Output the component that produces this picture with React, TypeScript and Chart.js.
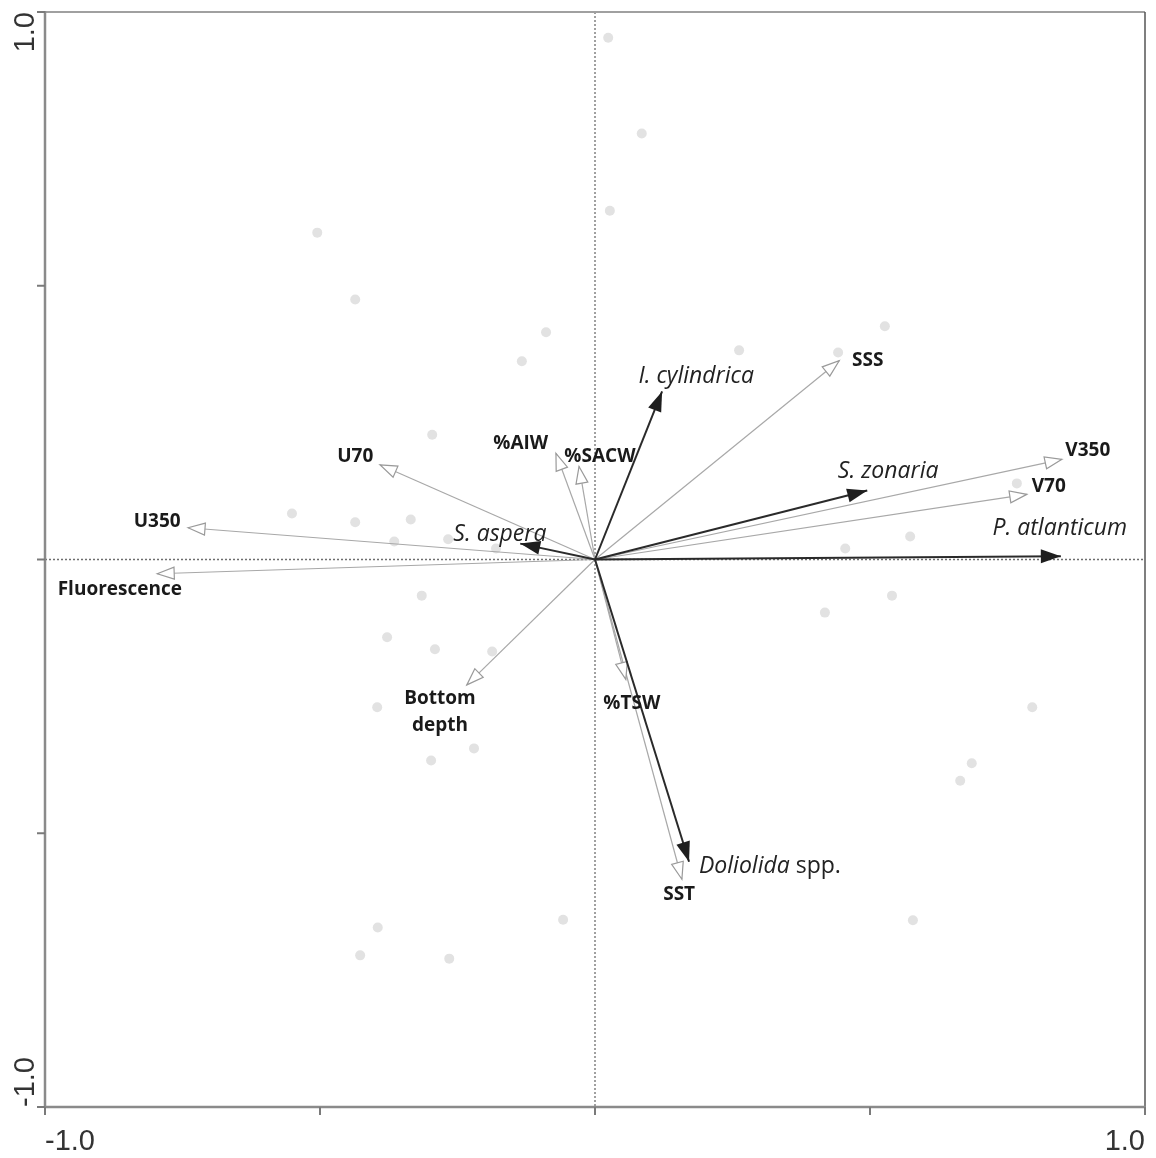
import React, { useEffect, useRef } from 'react';
import { Chart, registerables } from 'chart.js';

Chart.register(...registerables);

// Sample scores (grey dots)
const dotX = [0.024, 0.085, 0.027, -0.505, -0.436, -0.089, 0.527, 0.262, 0.442, -0.133, -0.296, -0.551, -0.436, -0.335, -0.365, -0.267, -0.180, 0.767, 0.573, 0.455, 0.418, 0.540, -0.315, -0.378, -0.291, -0.187, -0.396, -0.220, -0.298, 0.795, 0.685, 0.664, -0.058, -0.395, -0.427, -0.265, 0.578];
const dotY = [0.953, 0.778, 0.637, 0.597, 0.475, 0.415, 0.426, 0.382, 0.378, 0.362, 0.228, 0.084, 0.068, 0.073, 0.033, 0.037, 0.020, 0.139, 0.042, 0.020, -0.097, -0.066, -0.066, -0.142, -0.164, -0.168, -0.270, -0.345, -0.367, -0.270, -0.372, -0.404, -0.658, -0.672, -0.723, -0.729, -0.659];

// Species arrows (black)
const speciesNames = ['I. cylindrica', 'S. zonaria', 'P. atlanticum', 'S. aspera', 'Doliolida'];
const speciesSuffix = ['', '', '', '', ' spp.'];
const speciesX = [0.122, 0.495, 0.847, -0.136, 0.171];
const speciesY = [0.307, 0.126, 0.006, 0.029, -0.552];
const speciesLabelX = [0.184, 0.533, 0.845, -0.173, 0.318];
const speciesLabelY = [0.334, 0.161, 0.057, 0.046, -0.561];

// Environmental arrows (hollow heads)
const envNames = ['SSS', 'V350', 'V70', 'U70', 'U350', 'Fluorescence', '%AIW', '%SACW', 'Bottom\ndepth', '%TSW', 'SST'];
const envX = [0.444, 0.849, 0.785, -0.391, -0.740, -0.796, -0.071, -0.029, -0.233, 0.056, 0.158];
const envY = [0.363, 0.183, 0.119, 0.173, 0.058, -0.026, 0.194, 0.170, -0.229, -0.219, -0.584];
const envLabelX = [0.496, 0.896, 0.825, -0.436, -0.796, -0.864, -0.135, 0.009, -0.282, 0.067, 0.153];
const envLabelY = [0.363, 0.199, 0.133, 0.188, 0.069, -0.055, 0.212, 0.188, -0.279, -0.263, -0.612];

// Axis ticks
const tickValues = [-1, -0.5, 0, 0.5, 1];
const tickLabelValues = [-1, 1];
const tickLabels = ['-1.0', '1.0'];

function drawHead(ctx: CanvasRenderingContext2D, ox: number, oy: number, tx: number, ty: number, L: number, W: number, fill: string, stroke: string | null) {
  const dx = tx - ox, dy = ty - oy;
  const d = Math.hypot(dx, dy) || 1;
  const ux = dx / d, uy = dy / d;
  const bx = tx - ux * L, by = ty - uy * L;
  ctx.save();
  ctx.beginPath();
  ctx.moveTo(tx, ty);
  ctx.lineTo(bx - uy * W, by + ux * W);
  ctx.lineTo(bx + uy * W, by - ux * W);
  ctx.closePath();
  ctx.fillStyle = fill;
  ctx.fill();
  if (stroke) {
    ctx.strokeStyle = stroke;
    ctx.lineWidth = 1.2;
    ctx.lineJoin = 'miter';
    ctx.stroke();
  }
  ctx.restore();
}

export default function App() {
  const ref = useRef<HTMLCanvasElement>(null);
  useEffect(() => {
    const canvas = ref.current!;
    const datasets: any[] = [];
    // species first => drawn on top
    speciesNames.forEach((n, i) => {
      datasets.push({
        label: n,
        kind: 'species',
        idx: i,
        data: [{ x: 0, y: 0 }, { x: speciesX[i], y: speciesY[i] }],
        showLine: true,
        borderColor: '#2a2a2a',
        borderWidth: 2,
        pointRadius: 0,
      });
    });
    envNames.forEach((n, i) => {
      datasets.push({
        label: n,
        kind: 'env',
        idx: i,
        data: [{ x: 0, y: 0 }, { x: envX[i], y: envY[i] }],
        showLine: true,
        borderColor: '#a8a8a8',
        borderWidth: 1.2,
        pointRadius: 0,
      });
    });
    datasets.push({
      label: 'samples',
      kind: 'dots',
      data: dotX.map((x, i) => ({ x, y: dotY[i] })),
      pointRadius: 5,
      pointBackgroundColor: '#e2e2e2',
      pointBorderWidth: 0,
      pointBorderColor: 'rgba(0,0,0,0)',
      showLine: false,
    });

    const plugin = {
      id: 'biplot',
      beforeDatasetsDraw(chart: any) {
        const { ctx, chartArea: a, scales } = chart;
        const x0 = scales.x.getPixelForValue(0);
        const y0 = scales.y.getPixelForValue(0);
        ctx.save();
        ctx.strokeStyle = '#6e6e6e';
        ctx.lineWidth = 1.3;
        ctx.setLineDash([2, 2]);
        ctx.beginPath();
        ctx.moveTo(x0, a.top);
        ctx.lineTo(x0, a.bottom);
        ctx.moveTo(a.left, y0);
        ctx.lineTo(a.right, y0);
        ctx.stroke();
        ctx.restore();
      },
      afterDatasetDraw(chart: any, args: any) {
        const ds = chart.data.datasets[args.index];
        const { ctx, scales } = chart;
        const ox = scales.x.getPixelForValue(0);
        const oy = scales.y.getPixelForValue(0);
        if (ds.kind === 'env') {
          const tx = scales.x.getPixelForValue(envX[ds.idx]);
          const ty = scales.y.getPixelForValue(envY[ds.idx]);
          drawHead(ctx, ox, oy, tx, ty, 17, 6, '#ffffff', '#9a9a9a');
        } else if (ds.kind === 'species') {
          const tx = scales.x.getPixelForValue(speciesX[ds.idx]);
          const ty = scales.y.getPixelForValue(speciesY[ds.idx]);
          drawHead(ctx, ox, oy, tx, ty, 20, 7, '#1e1e1e', null);
        }
      },
      afterDraw(chart: any) {
        const { ctx, chartArea: a, scales } = chart;
        ctx.save();
        // frame
        ctx.lineCap = 'butt';
        ctx.strokeStyle = '#a0a0a0';
        ctx.lineWidth = 2;
        ctx.beginPath(); ctx.moveTo(a.left, a.top); ctx.lineTo(a.right, a.top); ctx.stroke();
        ctx.strokeStyle = '#555555';
        ctx.lineWidth = 1.5;
        ctx.beginPath(); ctx.moveTo(a.right, a.top); ctx.lineTo(a.right, a.bottom); ctx.stroke();
        ctx.strokeStyle = '#8a8a8a';
        ctx.lineWidth = 2.5;
        ctx.beginPath(); ctx.moveTo(a.left, a.top - 1); ctx.lineTo(a.left, a.bottom); ctx.stroke();
        ctx.beginPath(); ctx.moveTo(a.left, a.bottom); ctx.lineTo(a.right + 1, a.bottom); ctx.stroke();
        // ticks
        ctx.strokeStyle = '#7a7a7a';
        ctx.lineWidth = 2;
        tickValues.forEach((v) => {
          const px = scales.x.getPixelForValue(v);
          const py = scales.y.getPixelForValue(v);
          ctx.beginPath(); ctx.moveTo(px, a.bottom); ctx.lineTo(px, a.bottom + 8); ctx.stroke();
          ctx.beginPath(); ctx.moveTo(a.left, py); ctx.lineTo(a.left - 8, py); ctx.stroke();
        });
        // tick labels
        ctx.fillStyle = '#333333';
        ctx.font = '29px "Liberation Sans", Arial, sans-serif';
        ctx.textBaseline = 'alphabetic';
        tickLabelValues.forEach((v, i) => {
          const px = scales.x.getPixelForValue(v);
          ctx.textAlign = i === 0 ? 'left' : 'right';
          ctx.fillText(tickLabels[i], px, a.bottom + 43);
          const py = scales.y.getPixelForValue(v);
          ctx.save();
          ctx.translate(a.left - 11, py);
          ctx.rotate(-Math.PI / 2);
          ctx.textAlign = i === 0 ? 'left' : 'right';
          ctx.fillText(tickLabels[i], 0, 0);
          ctx.restore();
        });
        // env labels
        ctx.fillStyle = '#1a1a1a';
        ctx.font = 'bold 19px "Open Sans", sans-serif';
        ctx.textAlign = 'center';
        ctx.textBaseline = 'middle';
        envNames.forEach((n, i) => {
          const px = scales.x.getPixelForValue(envLabelX[i]);
          const py = scales.y.getPixelForValue(envLabelY[i]);
          const lines = n.split('\n');
          const lh = 27;
          lines.forEach((ln, k) => {
            ctx.fillText(ln, px, py + (k - (lines.length - 1) / 2) * lh);
          });
        });
        // species labels
        ctx.fillStyle = '#222222';
        ctx.textAlign = 'left';
        speciesNames.forEach((n, i) => {
          const px = scales.x.getPixelForValue(speciesLabelX[i]);
          const py = scales.y.getPixelForValue(speciesLabelY[i]);
          const itFont = 'italic 23px "Open Sans", sans-serif';
          const rgFont = '23px "Open Sans", sans-serif';
          ctx.font = itFont;
          const w1 = ctx.measureText(n).width;
          ctx.font = rgFont;
          const w2 = speciesSuffix[i] ? ctx.measureText(speciesSuffix[i]).width : 0;
          const start = px - (w1 + w2) / 2;
          ctx.font = itFont;
          ctx.fillText(n, start, py);
          if (speciesSuffix[i]) {
            ctx.font = rgFont;
            ctx.fillText(speciesSuffix[i], start + w1, py);
          }
        });
        ctx.restore();
      },
    };

    const chart = new Chart(canvas, {
      type: 'scatter',
      data: { datasets },
      options: {
        animation: false,
        responsive: false,
        maintainAspectRatio: false,
        layout: { padding: { left: 45, top: 12, right: 11, bottom: 51 } },
        plugins: { legend: { display: false }, tooltip: { enabled: false } },
        scales: {
          x: { type: 'linear', min: -1, max: 1, display: false },
          y: { type: 'linear', min: -1, max: 1, display: false },
        },
        elements: { line: { tension: 0 } },
      },
      plugins: [plugin],
    } as any);
    return () => chart.destroy();
  }, []);
  return (
    <div style={{ position: 'absolute', left: 0, top: 0, width: 1156, height: 1158, background: '#ffffff' }}>
      <canvas ref={ref} width={1156} height={1158} style={{ display: 'block', width: 1156, height: 1158 }} />
    </div>
  );
}
